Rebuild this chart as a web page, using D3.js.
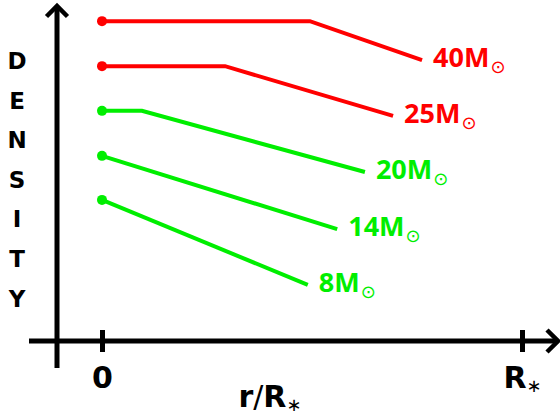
<!DOCTYPE html>
<html>
<head>
<meta charset="utf-8">
<script src="https://cdn.jsdelivr.net/npm/d3@7"></script>
<style>
  html, body { margin: 0; padding: 0; background: #fff; }
  svg { display: block; }
</style>
</head>
<body>
<svg id="chart" width="560" height="414"></svg>
<script>
// ---- data ----
const masses = ["40", "25", "20", "14", "8"];
const radius40 = [0, 0.495, 0.762];
const density40 = [9.52, 9.52, 8.36];
const radius25 = [0, 0.293, 0.693];
const density25 = [8.18, 8.18, 6.70];
const radius20 = [0, 0.095, 0.626];
const density20 = [6.85, 6.85, 5.03];
const radius14 = [0, 0.56];
const density14 = [5.51, 3.33];
const radius8 = [0, 0.49];
const density8 = [4.20, 1.67];
const xTickValues = [0, 1];
const xTickLabels = ["0", "R"];
const yLetters = ["D", "E", "N", "S", "I", "T", "Y"];

const series = [
  { m: masses[0], r: radius40, d: density40 },
  { m: masses[1], r: radius25, d: density25 },
  { m: masses[2], r: radius20, d: density20 },
  { m: masses[3], r: radius14, d: density14 },
  { m: masses[4], r: radius8, d: density8 }
];

// ---- styles / scales ----
const color = d3.scaleOrdinal().domain(masses)
  .range(["#ff0000", "#ff0000", "#00ee00", "#00ee00", "#00ee00"]);
const x = d3.scaleLinear().domain([0, 1]).range([102, 522]);
const y = d3.scaleLinear().domain([0, 10]).range([341, 5]);

const svg = d3.select("#chart");
const axisY0 = y(0);
const axisX0 = 57;

// axis lines with arrows
svg.append("line").attr("x1", 29).attr("x2", 558).attr("y1", axisY0).attr("y2", axisY0)
  .attr("stroke", "#000").attr("stroke-width", 5);
svg.append("path").attr("d", `M547,330 L558,${axisY0} L547,352`)
  .attr("fill", "none").attr("stroke", "#000").attr("stroke-width", 4.5)
  .attr("stroke-linejoin", "miter");
svg.append("line").attr("x1", axisX0).attr("x2", axisX0).attr("y1", 368).attr("y2", 6)
  .attr("stroke", "#000").attr("stroke-width", 5);
svg.append("path").attr("d", `M46.5,16.5 L${axisX0},6 L67.5,16.5`)
  .attr("fill", "none").attr("stroke", "#000").attr("stroke-width", 4.5)
  .attr("stroke-linejoin", "miter");

// x axis ticks via d3 axis
const xAxis = d3.axisBottom(x).tickValues(xTickValues)
  .tickFormat((d, i) => xTickLabels[i]).tickSize(22).tickPadding(12);
const gx = svg.append("g").attr("transform", `translate(0,${axisY0 - 11})`).call(xAxis);
gx.select(".domain").remove();
gx.selectAll(".tick line").attr("stroke", "#000").attr("stroke-width", 5);
gx.selectAll(".tick text")
  .attr("fill", "#000")
  .attr("font-family", "DejaVu Sans")
  .attr("font-weight", "bold")
  .attr("font-size", 30)
  .attr("dy", null)
  .attr("y", 58)
  .attr("text-anchor", "middle")
  .each(function(d, i) {
    if (i === 1) {
      d3.select(this).append("tspan")
        .attr("font-weight", "normal").attr("font-size", 18).attr("dy", 4).text("∗");
    }
  });

// x axis title
const xt = svg.append("text").attr("x", 270).attr("y", 407)
  .attr("text-anchor", "middle").attr("font-family", "DejaVu Sans").attr("font-size", 30)
  .attr("fill", "#000");
xt.append("tspan").attr("font-weight", "bold").text("r");
xt.append("tspan").attr("font-weight", "normal").text("/");
xt.append("tspan").attr("font-weight", "bold").text("R");
xt.append("tspan").attr("font-weight", "normal").attr("font-size", 18).attr("dy", 4).text("∗");

// y axis title, stacked letters
svg.append("g").selectAll("text").data(yLetters).join("text")
  .attr("x", 17).attr("y", (d, i) => 69 + i * 39.6)
  .attr("text-anchor", "middle")
  .attr("font-family", "DejaVu Sans").attr("font-weight", "bold").attr("font-size", 23)
  .attr("fill", "#000")
  .text(d => d);

// series lines
const line = d3.line().x(p => x(p[0])).y(p => y(p[1]));
const g = svg.append("g");
series.forEach(s => {
  const pts = s.r.map((r, i) => [r, s.d[i]]);
  g.append("path").attr("d", line(pts))
    .attr("fill", "none").attr("stroke", color(s.m)).attr("stroke-width", 4)
    .attr("stroke-linejoin", "miter");
  g.append("circle").attr("cx", x(pts[0][0])).attr("cy", y(pts[0][1])).attr("r", 5)
    .attr("fill", color(s.m));
  const last = pts[pts.length - 1];
  const t = g.append("text").attr("x", x(last[0]) + 11).attr("y", y(last[1]) + 7)
    .attr("font-family", "Open Sans").attr("font-weight", "bold").attr("font-size", 27)
    .attr("fill", color(s.m));
  t.append("tspan").text(s.m + "M");
  t.append("tspan").attr("font-family", "DejaVu Sans").attr("font-weight", "normal")
    .attr("font-size", 18).attr("dx", 1).attr("dy", 6).text("⊙");
});
</script>
</body>
</html>
